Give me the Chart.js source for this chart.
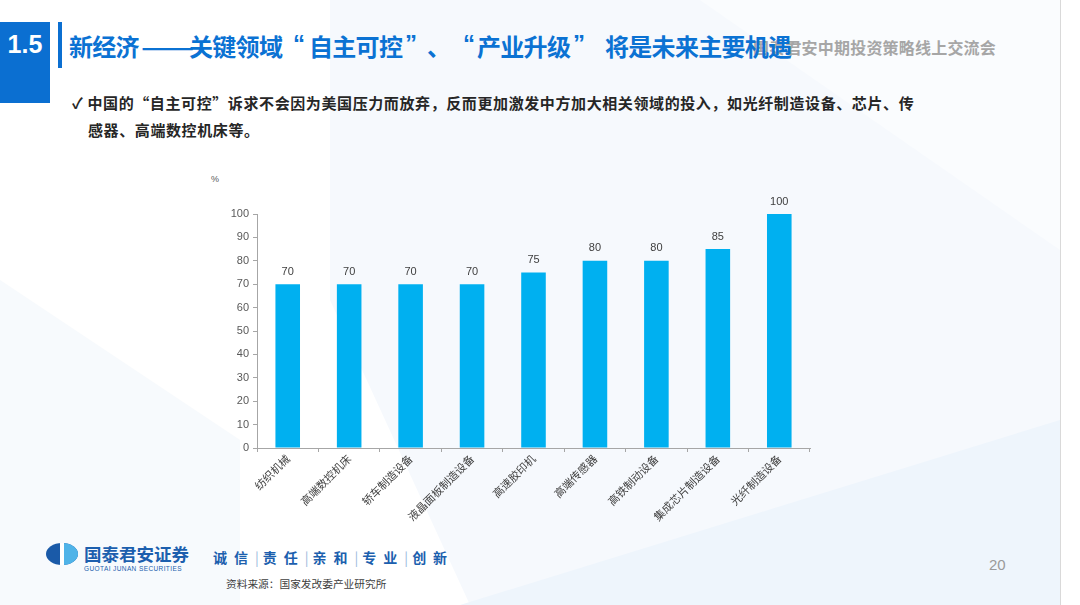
<!DOCTYPE html>
<html>
<head>
<meta charset="utf-8">
<script src="https://cdn.jsdelivr.net/npm/chart.js@4.4.1/dist/chart.umd.min.js"></script>
<style>
    html, body { margin: 0; padding: 0; }
    body {
        width: 1080px; height: 605px; position: relative; overflow: hidden;
        background: #ffffff;
        font-family: "Noto Sans CJK SC", "Noto Sans", sans-serif;
    }
    .abs { position: absolute; white-space: nowrap; }
    #bg { position: absolute; left: 0; top: 0; }
    #num-box {
        left: 0; top: 22px; width: 50px; height: 81px; background: #0b6fd1;
        color: #fff; font: bold 25px "Liberation Sans", sans-serif; text-align: center; line-height: 44px;
    }
    #bar-v { left: 58px; top: 22px; width: 4px; height: 46px; background: #0b6fd1; }
    #evento { left: 753px; top: 35px; font-size: 16px; color: #a6a6a6; font-weight: bold; letter-spacing: 0.2px; }
    #titulo { left: 0; top: 28px; width: 820px; height: 36px; font-size: 24px; font-weight: bold; color: #0b72d3; letter-spacing: -0.7px; }
    #titulo span { position: absolute; top: 0; white-space: nowrap; }
    #titulo .q { font-family: "Liberation Sans", sans-serif; top: 2px; }
    #titulo .raya { transform: scaleX(1.3); transform-origin: left center; }
    #texto { left: 72px; top: 89px; font-size: 15px; font-weight: bold; color: #262626; line-height: 27px; letter-spacing: 0.6px; }
    #unidad { left: 211px; top: 174px; font: 9px "Liberation Sans", sans-serif; color: #595959; }
    #grafico-box { position: absolute; left: 200px; top: 170px; width: 630px; height: 370px; }
    #eslogan { left: 213px; top: 547px; font-size: 14px; font-weight: bold; color: #1c5fae; }
    #eslogan .par { letter-spacing: 7px; }
    #eslogan .sep { color: #9bb9dc; font-weight: normal; margin-right: 4px; }
    #fuente { left: 226px; top: 576px; font-size: 10.7px; color: #404040; }
    #pagina { left: 989px; top: 556px; font: 15px "Liberation Sans", sans-serif; color: #9a9a9a; }
    #borde { left: 1060px; top: 0; width: 1px; height: 605px; background: #d9d9d9; }
</style>
</head>
<body>
<svg id="bg" width="1080" height="605">
    <polygon points="330,0 1060,0 1060,605 470,605 330,300" fill="#f6f9fd"/>
    <polygon points="0,280 240,440 240,605 0,605" fill="#f7fafd"/>
    <polygon points="460,605 1060,420 1060,605" fill="#eef5fc"/>
    <polygon points="700,0 1060,0 1060,250" fill="#fafcfe"/>
</svg>

<div class="abs" id="num-box">1.5</div>
<div class="abs" id="bar-v"></div>
<div class="abs" id="evento">国泰君安中期投资策略线上交流会</div>
<div class="abs" id="titulo">
    <span style="left:69px">新经济</span>
    <span class="raya" style="left:141px">——</span>
    <span style="left:189px">关键领域</span>
    <span class="q" style="left:293px">“</span>
    <span style="left:309px">自主可控</span>
    <span class="q" style="left:405px">”</span>
    <span style="left:427px">、</span>
    <span class="q" style="left:463px">“</span>
    <span style="left:477px">产业升级</span>
    <span class="q" style="left:573px">”</span>
    <span style="left:605px">将是未来主要机遇</span>
</div>
<div class="abs" id="texto">✓ 中国的“自主可控”诉求不会因为美国压力而放弃，反而更加激发中方加大相关领域的投入，如光纤制造设备、芯片、传<br>&nbsp;&nbsp;&nbsp;&nbsp;感器、高端数控机床等。</div>

<div class="abs" id="unidad">%</div>
<div id="grafico-box"><canvas id="grafico"></canvas></div>

<svg class="abs" style="left:40px;top:540px" width="160" height="36">
    <ellipse cx="22" cy="14" rx="16" ry="11" fill="#1a5aa8"/>
    <path d="M22 3 A16 11 0 0 1 22 25 Z" fill="#4fb3e8"/>
    <rect x="20" y="3" width="4" height="22" fill="#ffffff"/>
    <text x="44" y="21" font-size="17.5" font-weight="bold" fill="#1c5fae" font-family="Noto Sans CJK SC">国泰君安证券</text>
    <text x="44" y="31" font-size="6.5" fill="#1c5fae" font-family="Liberation Sans" letter-spacing="0.4">GUOTAI JUNAN SECURITIES</text>
</svg>
<div class="abs" id="eslogan"><span class="par">诚信</span><span class="sep">|</span><span class="par">责任</span><span class="sep">|</span><span class="par">亲和</span><span class="sep">|</span><span class="par">专业</span><span class="sep">|</span><span class="par">创新</span></div>
<div class="abs" id="fuente">资料来源：国家发改委产业研究所</div>
<div class="abs" id="pagina">20</div>
<div class="abs" id="borde"></div>

<script>
// datos del gráfico
const categorias = ['纺织机械', '高端数控机床', '轿车制造设备', '液晶面板制造设备', '高速胶印机', '高端传感器', '高铁制动设备', '集成芯片制造设备', '光纤制造设备'];
const valores = [70, 70, 70, 70, 75, 80, 80, 85, 100];
const ticksY = [0, 10, 20, 30, 40, 50, 60, 70, 80, 90, 100];

const COLOR_BARRA = '#00b0f0';
const COLOR_TEXTO = '#595959';
const COLOR_EJE = '#a6a6a6';

// etiquetas encima de cada barra
const etiquetasValor = {
    id: 'etiquetasValor',
    afterDatasetsDraw(chart) {
        const ctx = chart.ctx;
        const meta = chart.getDatasetMeta(0);
        ctx.save();
        ctx.font = '11px "Liberation Sans", sans-serif';
        ctx.fillStyle = '#404040';
        ctx.textAlign = 'center';
        ctx.textBaseline = 'bottom';
        meta.data.forEach((bar, i) => {
            ctx.fillText(valores[i], bar.x, bar.y - 7);
        });
        ctx.restore();
    }
};

function init() {
    const ctx = document.getElementById('grafico').getContext('2d');
    new Chart(ctx, {
        type: 'bar',
        data: {
            labels: categorias,
            datasets: [{ data: valores, backgroundColor: COLOR_BARRA, borderWidth: 0, categoryPercentage: 1, barPercentage: 0.4 }]
        },
        options: {
            responsive: true,
            maintainAspectRatio: false,
            animation: false,
            layout: { padding: { top: 44, right: 20, left: 0, bottom: 0 } },
            plugins: { legend: { display: false }, tooltip: { enabled: false } },
            scales: {
                x: {
                    grid: { display: true, drawOnChartArea: false, drawTicks: true, tickLength: 4, color: COLOR_EJE, offset: true },
                    border: { color: COLOR_EJE, width: 1 },
                    ticks: {
                        color: '#404040', font: { size: 11, family: '"Noto Sans CJK SC", sans-serif' },
                        minRotation: 45, maxRotation: 45, autoSkip: false, padding: 0
                    },
                    afterFit: (scale) => { scale.height = 92; }
                },
                y: {
                    min: 0, max: 100,
                    afterBuildTicks: (scale) => { scale.ticks = ticksY.map(v => ({ value: v })); },
                    grid: { display: true, drawOnChartArea: false, drawTicks: true, tickLength: 4, color: COLOR_EJE },
                    border: { color: COLOR_EJE, width: 1 },
                    ticks: { color: COLOR_TEXTO, font: { size: 11, family: '"Liberation Sans", sans-serif' }, padding: 4 },
                    afterFit: (scale) => { scale.width = 57; }
                }
            }
        },
        plugins: [etiquetasValor]
    });
}

window.onload = init;
</script>
</body>
</html>
